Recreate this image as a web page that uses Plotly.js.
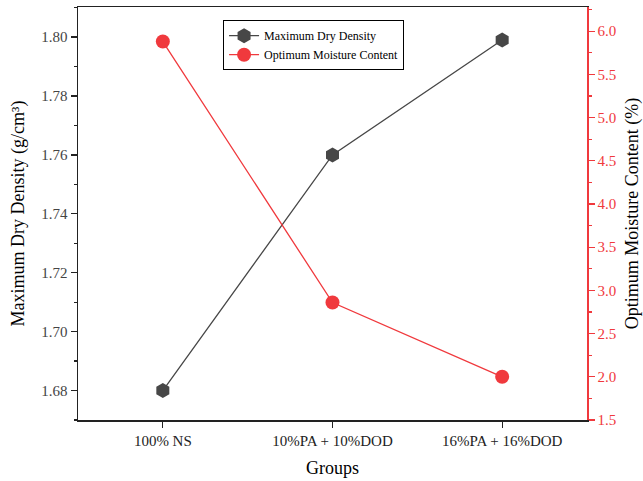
<!DOCTYPE html>
<html>
<head>
<meta charset="utf-8">
<script src="https://cdn.plot.ly/plotly-3.0.1.min.js"></script>
<style>html,body{margin:0;padding:0;background:#fff}#chart{width:643px;height:481px}</style>
</head>
<body>
<div id="chart"></div>
<script>
const groups = ["100% NS", "10%PA + 10%DOD", "16%PA + 16%DOD"];
const maxDryDensity = [1.680, 1.760, 1.799];
const optMoisture = [5.88, 2.86, 2.00];

const FONT = "Liberation Serif";
const RED = "#f0393d";
const DARK = "#474747";

const traces = [
  {
    x: groups, y: maxDryDensity, name: "Maximum Dry Density",
    type: "scatter", mode: "lines+markers", yaxis: "y",
    line: {color: DARK, width: 1.3},
    marker: {symbol: "hexagon", size: 15, color: DARK}
  },
  {
    x: groups, y: optMoisture, name: "Optimum Moisture Content",
    type: "scatter", mode: "lines+markers", yaxis: "y2",
    line: {color: RED, width: 1.3},
    marker: {symbol: "circle", size: 14, color: RED}
  }
];

const layout = {
  width: 643, height: 481,
  margin: {l: 78, r: 56, t: 7, b: 61},
  paper_bgcolor: "#fff", plot_bgcolor: "#fff",
  font: {family: FONT, color: "#000"},
  showlegend: true,
  legend: {
    x: 0.285, y: 0.968, xanchor: "left", yanchor: "top",
    bgcolor: "#fff", bordercolor: "#000", borderwidth: 1,
    font: {family: FONT, size: 12, color: "#000"},
    tracegroupgap: 0, itemwidth: 30
  },
  xaxis: {
    type: "category", range: [-0.5, 2.5],
    showline: true, linecolor: "#222", linewidth: 1.5, mirror: true,
    ticks: "outside", ticklen: 6, tickcolor: "#222", tickwidth: 1.3,
    showgrid: false, zeroline: false,
    tickfont: {family: FONT, size: 15, color: "#222"},
    title: {text: "Groups", font: {family: FONT, size: 18, color: "#000"}, standoff: 14}
  },
  yaxis: {
    range: [1.67, 1.8102], dtick: 0.02, tick0: 1.68, tickformat: ".2f",
    showline: true, linecolor: "#222", linewidth: 1.5,
    ticks: "outside", ticklen: 6, tickcolor: "#222", tickwidth: 1.3,
    minor: {dtick: 0.01, ticks: "outside", ticklen: 3, tickcolor: "#222", showgrid: false},
    showgrid: false, zeroline: false,
    tickfont: {family: FONT, size: 15, color: "#444"},
    title: {text: "Maximum Dry Density (g/cm³)", font: {family: FONT, size: 18, color: "#000"}, standoff: 12}
  },
  yaxis2: {
    overlaying: "y", side: "right",
    range: [1.5, 6.28], dtick: 0.5, tick0: 1.5, tickformat: ".1f",
    showline: true, linecolor: RED, linewidth: 1.5,
    ticks: "outside", ticklen: 6, tickcolor: RED, tickwidth: 1.3,
    minor: {dtick: 0.25, ticks: "outside", ticklen: 3, tickcolor: RED, showgrid: false},
    showgrid: false, zeroline: false,
    tickfont: {family: FONT, size: 15, color: RED},
    title: {text: "Optimum Moisture Content (%)", font: {family: FONT, size: 18, color: "#000"}, standoff: 10}
  }
};

Plotly.newPlot("chart", traces, layout, {displayModeBar: false, staticPlot: true});
</script>
</body>
</html>
